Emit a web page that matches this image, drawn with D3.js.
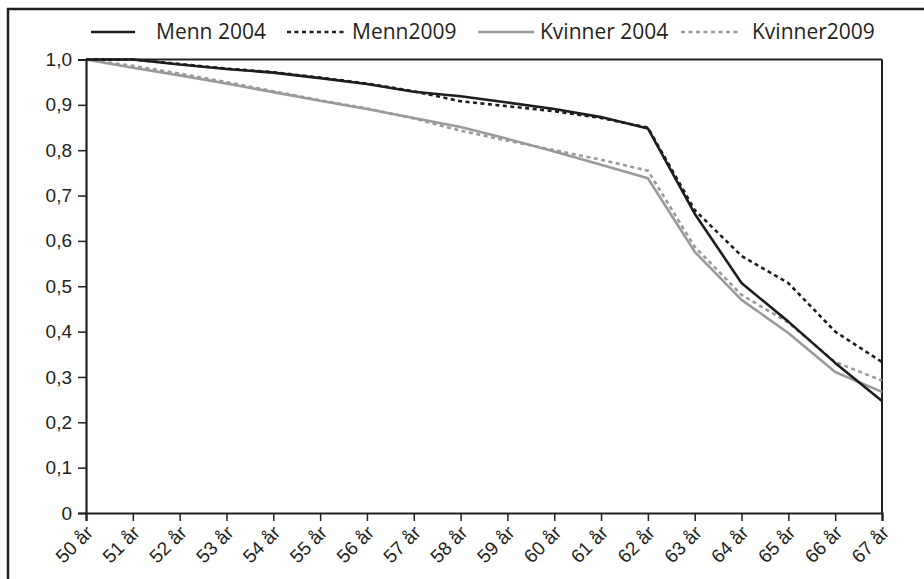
<!DOCTYPE html>
<html><head><meta charset="utf-8">
<script src="https://cdn.jsdelivr.net/npm/d3@7"></script>
<style>
html,body{margin:0;padding:0;background:#fff;}
svg{display:block;font-family:"Open Sans","Noto Sans",sans-serif;}
</style></head>
<body>
<svg id="c" width="924" height="579"></svg>
<script>
const categories = ["50 år","51 år","52 år","53 år","54 år","55 år","56 år","57 år","58 år","59 år","60 år","61 år","62 år","63 år","64 år","65 år","66 år","67 år"];
const menn2004     = [1.0,1.0,0.989,0.979,0.971,0.959,0.946,0.929,0.919,0.905,0.891,0.873,0.848,0.66,0.507,0.422,0.331,0.247];
const menn2009     = [1.0,1.0,0.99,0.98,0.972,0.96,0.947,0.93,0.908,0.897,0.886,0.871,0.85,0.668,0.567,0.507,0.4,0.333];
const kvinner2004  = [1.0,0.982,0.965,0.947,0.928,0.909,0.891,0.871,0.851,0.825,0.797,0.768,0.738,0.576,0.47,0.397,0.311,0.267];
const kvinner2009  = [1.0,0.986,0.969,0.95,0.93,0.91,0.892,0.87,0.843,0.821,0.8,0.779,0.755,0.587,0.481,0.42,0.333,0.292];
const yTicks = [0,0.1,0.2,0.3,0.4,0.5,0.6,0.7,0.8,0.9,1.0];
const seriesNames = ["Menn 2004","Menn2009","Kvinner 2004","Kvinner2009"];

const svg = d3.select("#c");
svg.append("rect").attr("x",8).attr("y",9).attr("width",960).attr("height",640)
  .attr("fill","none").attr("stroke","#231f20").attr("stroke-width",2.5);

const x = d3.scalePoint().domain(categories).range([86,882]);
const y = d3.scaleLinear().domain([0,1]).range([513,59.5]);

const g = svg.append("g");
g.append("line").attr("x1",86).attr("x2",882).attr("y1",y(1)).attr("y2",y(1)).attr("stroke","#231f20").attr("stroke-width",2);
g.append("line").attr("x1",882).attr("x2",882).attr("y1",y(1)).attr("y2",y(0)).attr("stroke","#231f20").attr("stroke-width",2);

const fmt = v => v===0 ? "0" : d3.format(".1f")(v).replace(".",",");
const yAxis = g.append("g").attr("transform","translate(86,0)")
  .call(d3.axisLeft(y).tickValues(yTicks).tickFormat(fmt).tickSize(8).tickPadding(6));
yAxis.selectAll("text").attr("font-size",19).attr("fill","#231f20");
const xAxis = g.append("g").attr("transform","translate(0,513)")
  .call(d3.axisBottom(x).tickSize(8).tickPadding(4));
xAxis.selectAll("text").attr("font-size",19).attr("fill","#231f20")
  .attr("text-anchor","end").attr("x",0).attr("y",0).attr("dy","0.35em")
  .attr("transform","translate(3,16) rotate(-45)");
[yAxis,xAxis].forEach(a=>{a.select(".domain").attr("stroke","#231f20").attr("stroke-width",2.2);
  a.selectAll(".tick line").attr("stroke","#231f20").attr("stroke-width",1.5);});

const styles = [
  {data:menn2004, color:"#1f1c1d", dash:null},
  {data:menn2009, color:"#1f1c1d", dash:"4,3.5"},
  {data:kvinner2004, color:"#9a9a9c", dash:null},
  {data:kvinner2009, color:"#9a9a9c", dash:"4,3.5"}
];
const line = d3.line().x((d,i)=>x(categories[i])).y(d=>y(d));
[2,3,0,1].forEach(k=>{
  const s = styles[k];
  g.append("path").datum(s.data).attr("d",line).attr("fill","none")
   .attr("stroke",s.color).attr("stroke-width",2.6).attr("stroke-linejoin","round")
   .attr("stroke-dasharray",s.dash);
});

const legLine = [[91,135],[287,345],[478,534],[681,740]];
const legText = [156,352,540,752];
const lg = svg.append("g");
seriesNames.forEach((n,i)=>{
  const s = styles[i];
  lg.append("line").attr("x1",legLine[i][0]).attr("x2",legLine[i][1]).attr("y1",32).attr("y2",32)
    .attr("stroke",s.color).attr("stroke-width",2.6).attr("stroke-dasharray",s.dash);
  lg.append("text").attr("x",legText[i]).attr("y",32).attr("dy","0.35em")
    .attr("font-size",21).attr("fill","#231f20").text(n);
});
</script>
</body></html>
